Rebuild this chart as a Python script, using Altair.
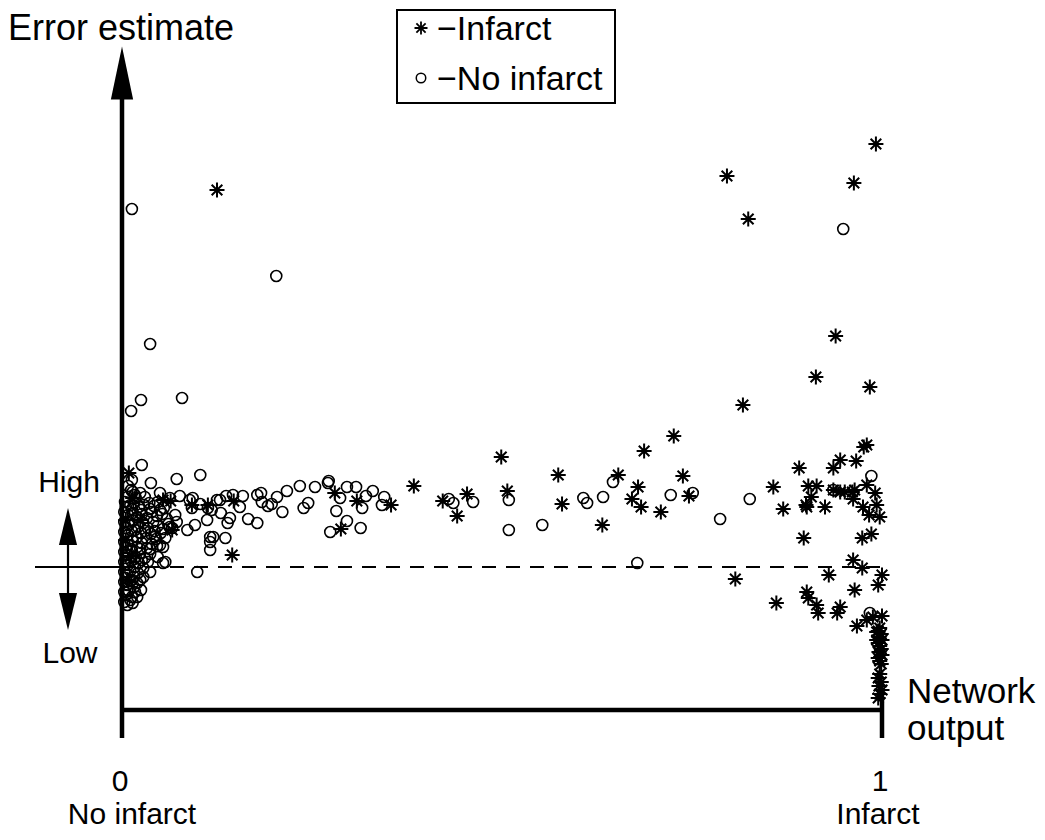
import altair as alt
import pandas as pd

# ---------------- data (network output, error estimate) ----------------
# Infarct cases (asterisks)
inf_x = [0.125, 0.992, 0.796, 0.963, 0.824, 0.939, 0.913, 0.984, 0.817,
         0.354, 0.384, 0.422, 0.441, 0.454, 0.499, 0.507, 0.574, 0.579, 0.632,
         0.653, 0.671, 0.679, 0.683, 0.687, 0.709, 0.726, 0.738, 0.746,
         0.857, 0.870, 0.891, 0.903, 0.914, 0.907, 0.900, 0.901, 0.925, 0.897,
         0.936, 0.945, 0.966, 0.976, 0.980, 0.980, 0.936, 0.945, 0.951, 0.961,
         0.962, 0.964, 0.975, 0.983, 0.991, 0.993, 0.997, 0.974, 0.986,
         0.807, 0.861, 0.901, 0.903, 0.914, 0.916, 0.941, 0.945, 0.930, 0.962,
         0.974, 0.964, 1.000, 0.995, 0.967, 0.980, 0.988, 1.000,
         0.145, 0.009, 0.054, 0.064, 0.092, 0.113, 0.147, 0.280, 0.309, 0.288,
         0.066, 0.024, 0.005, 0.012, 0.007, 0.005, 0.014,
         0.997, 0.995, 0.999, 0.996, 1.000, 0.995, 0.997, 0.999, 0.996, 1.000,
         0.995, 0.997, 0.999, 0.993, 0.993,
         0.997, 0.995, 0.999, 0.996, 1.000, 0.997, 0.995]
inf_y = [3.77, 4.23, 3.91, 3.84, 3.48, 2.31, 1.90, 1.80, 1.62,
         0.62, 0.81, 0.66, 0.51, 0.73, 1.10, 0.76, 0.92, 0.63, 0.42,
         0.92, 0.68, 0.80, 0.60, 1.16, 0.55, 1.31, 0.91, 0.71,
         0.80, 0.58, 0.99, 0.81, 0.81, 0.70, 0.62, 0.60, 0.60, 0.29,
         0.99, 1.07, 1.06, 1.20, 1.22, 0.82, 0.77, 0.75, 0.75, 0.75,
         0.68, 0.77, 0.60, 0.52, 0.74, 0.62, 0.50, 0.29, 0.33,
         -0.12, -0.36, -0.25, -0.31, -0.38, -0.46, -0.46, -0.40, -0.08, 0.07,
         -0.01, -0.23, -0.08, -0.18, -0.59, -0.53, -0.50, -0.49,
         0.12, 0.94, 0.67, 0.66, 0.62, 0.62, 0.66, 0.74, 0.66, 0.38,
         0.37, 0.47, 0.27, 0.11, -0.13, 0.47, 0.69,
         -0.61, -0.64, -0.67, -0.70, -0.73, -0.76, -0.79, -0.82, -0.85, -0.88,
         -0.91, -0.94, -0.97, -0.65, -0.73,
         -1.07, -1.11, -1.15, -1.19, -1.23, -1.27, -1.31]

# No-infarct cases (open circles)
no_x = [0.013, 0.203, 0.037, 0.025, 0.012, 0.079, 0.949,
        0.345, 0.342, 0.430, 0.436, 0.462, 0.509, 0.509, 0.553, 0.607, 0.612,
        0.633, 0.646, 0.678, 0.722, 0.751, 0.787, 0.826, 0.986, 0.936, 0.984,
        0.026, 0.103, 0.038, 0.072, 0.013, 0.014, 0.017, 0.050, 0.063, 0.076,
        0.089, 0.093, 0.103, 0.129, 0.137, 0.146, 0.159, 0.155, 0.178, 0.183,
        0.184, 0.192, 0.197, 0.204, 0.217, 0.234, 0.254, 0.271, 0.272, 0.296,
        0.308, 0.287, 0.330, 0.321, 0.316, 0.282, 0.211, 0.239, 0.245, 0.296,
        0.314, 0.274, 0.130, 0.142, 0.139, 0.166, 0.178, 0.118, 0.112, 0.096,
        0.116, 0.116, 0.116, 0.120, 0.136, 0.099, 0.086, 0.066, 0.043, 0.050,
        0.047, 0.057,
        0.008, 0.012, 0.007, 0.018, 0.024, 0.030,
        0.004, 0.011, 0.016, 0.022, 0.029, 0.036, 0.042, 0.047, 0.055,
        0.003, 0.008, 0.014, 0.020, 0.026, 0.033, 0.039, 0.046, 0.053, 0.059, 0.070,
        0.003, 0.009, 0.014, 0.021, 0.028, 0.034, 0.041, 0.047, 0.054, 0.061,
        0.003, 0.008, 0.013, 0.020, 0.025, 0.032, 0.038, 0.045, 0.051,
        0.003, 0.008, 0.014, 0.020, 0.026, 0.033, 0.039, 0.046,
        0.003, 0.008, 0.013, 0.018, 0.024, 0.030, 0.037,
        0.003, 0.008, 0.012, 0.017, 0.022, 0.028, 0.034,
        0.003, 0.007, 0.011, 0.016, 0.021, 0.028, 0.037,
        0.003, 0.007, 0.011, 0.016, 0.020, 0.025,
        0.003, 0.005, 0.009, 0.013, 0.020,
        0.003, 0.007, 0.011, 0.014,
        0.113, 0.125, 0.092, 0.072, 0.063, 0.057, 0.054, 0.054,
        0.005, 0.013, 0.025, 0.037, 0.050,
        0.005, 0.017, 0.030, 0.043,
        0.005, 0.012, 0.024, 0.037,
        0.005, 0.016, 0.026,
        0.005, 0.013, 0.024,
        0.007, 0.017]
no_y = [3.58, 2.91, 2.23, 1.67, 1.56, 1.69, 3.38,
        0.70, 0.62, 0.68, 0.64, 0.65, 0.67, 0.37, 0.42, 0.69, 0.64,
        0.70, 0.85, 0.04, 0.72, 0.74, 0.48, 0.68, 0.91, 0.77, -0.46,
        1.02, 0.92, 0.84, 0.88, 0.87, 0.75, 0.72, 0.74, 0.69, 0.71,
        0.67, 0.69, 0.63, 0.67, 0.71, 0.72, 0.71, 0.60, 0.72, 0.74,
        0.65, 0.61, 0.63, 0.70, 0.76, 0.81, 0.80, 0.84, 0.86, 0.80,
        0.80, 0.69, 0.76, 0.71, 0.59, 0.56, 0.55, 0.59, 0.64, 0.46,
        0.39, 0.35, 0.54, 0.49, 0.44, 0.48, 0.44, 0.57, 0.47, 0.42,
        0.30, 0.25, 0.17, 0.30, 0.29, -0.05, 0.37, 0.39, 0.30, 0.22,
        0.10, 0.05,
        0.81, 0.77, 0.70, 0.69, 0.74, 0.70,
        0.65, 0.62, 0.64, 0.60, 0.62, 0.64, 0.61, 0.65, 0.59,
        0.55, 0.52, 0.54, 0.50, 0.53, 0.49, 0.55, 0.51, 0.53, 0.48, 0.52,
        0.45, 0.42, 0.46, 0.40, 0.44, 0.39, 0.45, 0.41, 0.38, 0.43,
        0.35, 0.32, 0.36, 0.30, 0.34, 0.29, 0.33, 0.28, 0.34,
        0.25, 0.22, 0.26, 0.20, 0.24, 0.19, 0.23, 0.21,
        0.15, 0.12, 0.16, 0.10, 0.14, 0.09, 0.13,
        0.05, 0.02, 0.06, 0.00, 0.04, -0.01, 0.05,
        -0.05, -0.08, -0.04, -0.10, -0.06, -0.10, -0.05,
        -0.15, -0.18, -0.14, -0.20, -0.16, -0.23,
        -0.25, -0.28, -0.24, -0.30, -0.30,
        -0.35, -0.38, -0.33, -0.36,
        0.59, 0.67, 0.59, 0.45, 0.40, 0.29, 0.20, 0.04,
        0.60, 0.58, 0.57, 0.58, 0.57,
        0.39, 0.37, 0.36, 0.36,
        0.19, 0.18, 0.18, 0.18,
        0.09, 0.08, 0.07,
        -0.11, -0.13, -0.13,
        -0.23, -0.25]

legend_labels = ["\u2212Infarct", "\u2212No infarct"]

# ---------------- layout helpers ----------------
W, H = 1029, 824
XS = alt.Scale(domain=[-0.15, 1.203947], nice=False, zero=False)
YS = alt.Scale(domain=[-2.65, 5.59], nice=False, zero=False)
FONT = "Liberation Sans"


def hx(p):
    return (p - 122) / 760.0


def vy(p):
    return (567 - p) / 100.0


def enc(**kw):
    out = {}
    for k, v in kw.items():
        if k == "x":
            out[k] = alt.X(v, type="quantitative", scale=XS, axis=None)
        elif k == "x2":
            out[k] = alt.X2(v)
        elif k == "y":
            out[k] = alt.Y(v, type="quantitative", scale=YS, axis=None)
        elif k == "y2":
            out[k] = alt.Y2(v)
        else:
            out[k] = v
    return out


ASTER = "M0,-1L0,1M-1,0L1,0M-0.71,-0.71L0.71,0.71M-0.71,0.71L0.71,-0.71"
UP = "M0,-1L0.42,1L-0.42,1Z"
UP2 = "M0,-1L0.49,1L-0.49,1Z"
DOWN2 = "M0,1L0.49,-1L-0.49,-1Z"

inf_df = pd.DataFrame({"x": inf_x, "y": inf_y})
no_df = pd.DataFrame({"x": no_x, "y": no_y})

circles = alt.Chart(no_df).mark_point(
    shape="circle", filled=False, stroke="black", strokeWidth=1.6, size=121, opacity=1
).encode(**enc(x="x", y="y"))

stars = alt.Chart(inf_df).mark_point(
    shape=ASTER, filled=False, stroke="black", strokeWidth=2, size=225, opacity=1
).encode(**enc(x="x", y="y"))

# axes lines (thick)
thick = pd.DataFrame({
    "x": [0.0, hx(120), 1.0],
    "x2": [0.0, hx(884), 1.0],
    "y": [vy(738), vy(710), vy(688)],
    "y2": [vy(95), vy(710), vy(738)],
})
thick_rules = alt.Chart(thick).mark_rule(color="black", strokeWidth=4.5, strokeCap="butt").encode(
    **enc(x="x", x2="x2", y="y", y2="y2"))

thin = pd.DataFrame({
    "x": [hx(35), hx(68)],
    "x2": [0.0, hx(68)],
    "y": [0.0, vy(540)],
    "y2": [0.0, vy(598)],
})
thin_rules = alt.Chart(thin).mark_rule(color="black", strokeWidth=2.2, strokeCap="butt").encode(
    **enc(x="x", x2="x2", y="y", y2="y2"))

dash = pd.DataFrame({"x": [0.0], "x2": [hx(886)], "y": [0.0], "y2": [0.0]})
dash_rule = alt.Chart(dash).mark_rule(color="black", strokeWidth=2, strokeDash=[14, 10],
                                      strokeCap="butt").encode(
    **enc(x="x", x2="x2", y="y", y2="y2"))

# arrow heads
ah_main = alt.Chart(pd.DataFrame({"x": [0.0], "y": [vy(73)]})).mark_point(
    shape=UP, filled=True, fill="black", size=53 * 53, opacity=1
).encode(**enc(x="x", y="y"))
ah_up = alt.Chart(pd.DataFrame({"x": [hx(68)], "y": [vy(526.5)]})).mark_point(
    shape=UP2, filled=True, fill="black", size=37 * 37, opacity=1
).encode(**enc(x="x", y="y"))
ah_dn = alt.Chart(pd.DataFrame({"x": [hx(68)], "y": [vy(611.5)]})).mark_point(
    shape=DOWN2, filled=True, fill="black", size=37 * 37, opacity=1
).encode(**enc(x="x", y="y"))


def texts(rows, size, align):
    df = pd.DataFrame(rows, columns=["t", "x", "y"])
    return alt.Chart(df).mark_text(font=FONT, fontSize=size, align=align, baseline="alphabetic",
                                   color="black").encode(**enc(x="x", y="y", text="t:N"))


t_title = texts([["Error estimate", hx(8), vy(40)]], 36, "left")
t_net = texts([["Network", hx(907), vy(703)], ["output", hx(907), vy(740)]], 35, "left")
t_ticks = texts([["0", hx(120), vy(791)], ["1", hx(880), vy(791)]], 30, "center")
t_ends = texts([["No infarct", hx(132), vy(824)], ["Infarct", hx(878), vy(824)]], 30, "center")
t_hl = texts([["High", hx(69), vy(492)], ["Low", hx(70), vy(663)]], 30, "center")

# legend
box = alt.Chart(pd.DataFrame({"x": [hx(397)], "x2": [hx(615)], "y": [vy(10)], "y2": [vy(103)]})).mark_rect(
    fill="white", stroke="black", strokeWidth=2).encode(**enc(x="x", x2="x2", y="y", y2="y2"))
leg_star = alt.Chart(pd.DataFrame({"x": [hx(421)], "y": [vy(28)]})).mark_point(
    shape=ASTER, filled=False, stroke="black", strokeWidth=1.8, size=169, opacity=1
).encode(**enc(x="x", y="y"))
leg_circ = alt.Chart(pd.DataFrame({"x": [hx(421)], "y": [vy(78)]})).mark_point(
    shape="circle", filled=False, stroke="black", strokeWidth=1.5, size=90, opacity=1
).encode(**enc(x="x", y="y"))
t_leg = texts([[legend_labels[0], hx(437), vy(40)], [legend_labels[1], hx(437), vy(90)]], 34, "left")

chart = alt.layer(
    dash_rule, circles, stars, thick_rules, thin_rules, ah_main, ah_up, ah_dn,
    t_title, t_net, t_ticks, t_ends, t_hl, box, leg_star, leg_circ, t_leg,
).properties(
    width=W, height=H, padding=0,
    autosize=alt.AutoSizeParams(type="none"),
    background="white",
).configure_view(stroke=None)

chart.save("out.html", embed_options={"renderer": "svg", "actions": False})
